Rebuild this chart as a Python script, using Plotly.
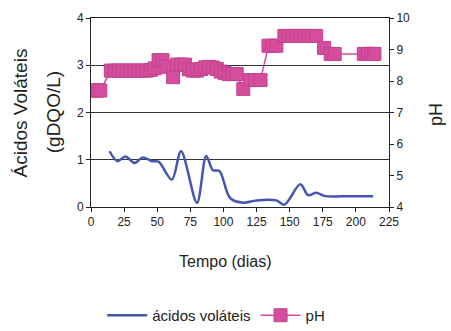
import plotly.graph_objects as go

# Volatile acids (gDQO/L) vs day
acid_days = [14, 20, 26, 33, 39, 46, 51, 61, 68, 80, 87, 92, 97, 105, 115, 125, 140, 146, 158, 164, 170, 177, 195, 213]
acid_vals = [1.18, 0.97, 1.07, 0.93, 1.05, 0.97, 0.96, 0.58, 1.18, 0.09, 1.08, 0.78, 0.76, 0.19, 0.09, 0.14, 0.14, 0.05, 0.48, 0.25, 0.30, 0.23, 0.23, 0.23]

# pH vs day
ph_days = [1, 3, 5, 7,
           15, 18, 21, 24, 27, 30, 33, 36, 39, 42, 45,
           48, 51, 54, 57, 62, 65, 68, 71, 74, 77, 80, 83, 86, 89, 92, 95, 98, 101, 104, 107, 110,
           115, 120, 124, 128,
           134, 137, 140,
           146, 149, 152, 155, 158, 161, 164, 167, 170,
           176, 181, 184,
           206, 209, 212, 214]
ph_vals = [7.7, 7.7, 7.7, 7.7,
           8.33, 8.33, 8.33, 8.33, 8.33, 8.33, 8.33, 8.33, 8.33, 8.33, 8.35,
           8.4, 8.66, 8.66, 8.45, 8.12, 8.52, 8.52, 8.52, 8.37, 8.33, 8.33, 8.38, 8.43, 8.45, 8.43, 8.38, 8.3, 8.25, 8.22, 8.22, 8.22,
           7.75, 8.03, 8.03, 8.03,
           9.12, 9.12, 9.12,
           9.43, 9.43, 9.43, 9.43, 9.43, 9.43, 9.43, 9.43, 9.43,
           9.05, 8.86, 8.86,
           8.86, 8.86, 8.86, 8.86]

x_ticks = [0, 25, 50, 75, 100, 125, 150, 175, 200, 225]

FONT = "Liberation Sans, Arial, sans-serif"
BLUE = "#4656b0"
MAG = "#d64d9d"

fig = go.Figure()
fig.add_trace(go.Scatter(
    x=acid_days, y=acid_vals, name="ácidos voláteis", mode="lines",
    line=dict(color=BLUE, width=2.5, shape="spline", smoothing=0.9),
    yaxis="y"))
fig.add_trace(go.Scatter(
    x=ph_days, y=ph_vals, name="pH", mode="lines+markers",
    line=dict(color=MAG, width=1.5),
    marker=dict(symbol="square", size=13, color=MAG, line=dict(color="#c2438d", width=1)),
    yaxis="y2"))

fig.update_layout(
    width=451, height=331,
    margin=dict(l=91, r=62, t=18, b=124, autoexpand=False),
    paper_bgcolor="white", plot_bgcolor="white",
    font=dict(family=FONT, size=12, color="#222"),
    showlegend=True,
    legend=dict(orientation="h", x=0.42, xanchor="center", y=-0.574, yanchor="middle",
                font=dict(family=FONT, size=15, color="#222"), itemwidth=40,
                bgcolor="rgba(0,0,0,0)"),
    xaxis=dict(range=[0, 225], tickvals=x_ticks, ticks="outside", ticklen=4,
               tickcolor="#222", showline=True, linecolor="#222", linewidth=1, mirror=True,
               showgrid=False, zeroline=False, tickfont=dict(size=12, color="#222")),
    yaxis=dict(range=[0, 4], dtick=1, ticks="outside", ticklen=4, tickcolor="#222",
               showline=True, linecolor="#222", linewidth=1, showgrid=True,
               gridcolor="#333", gridwidth=1, zeroline=False,
               tickfont=dict(size=12, color="#222")),
    yaxis2=dict(range=[4, 10], dtick=1, overlaying="y", side="right", ticks="outside",
                ticklen=4, tickcolor="#222", showline=True, linecolor="#222", linewidth=1,
                showgrid=False, zeroline=False, tickfont=dict(size=12, color="#222")),
    annotations=[
        dict(text="Ácidos Voláteis", xref="paper", yref="paper", x=-0.235, y=0.5,
             xanchor="center", yanchor="middle", textangle=-90, showarrow=False,
             font=dict(family=FONT, size=19, color="#222")),
        dict(text="(gDQO/L)", xref="paper", yref="paper", x=-0.125, y=0.5,
             xanchor="center", yanchor="middle", textangle=-90, showarrow=False,
             font=dict(family=FONT, size=19, color="#222")),
        dict(text="pH", xref="paper", yref="paper", x=1.16, y=0.49,
             xanchor="center", yanchor="middle", textangle=-90, showarrow=False,
             font=dict(family=FONT, size=18, color="#222")),
        dict(text="Tempo (dias)", xref="paper", yref="paper", x=0.45, y=-0.29,
             xanchor="center", yanchor="middle", showarrow=False,
             font=dict(family=FONT, size=16, color="#222")),
    ],
)

fig.write_html("out.html")
